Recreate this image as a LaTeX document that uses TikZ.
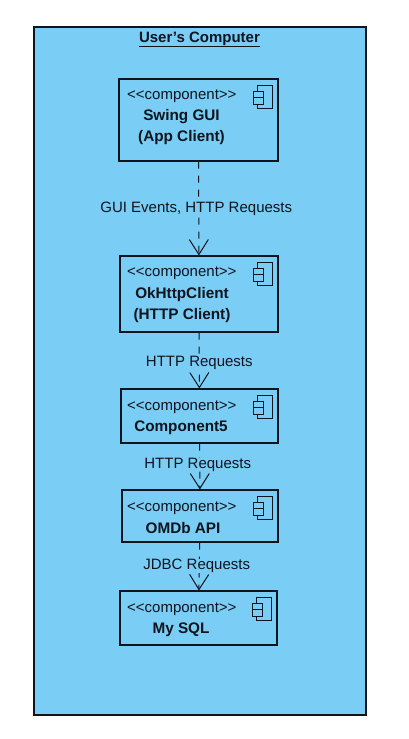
\documentclass[tikz,border=0pt]{standalone}
\usepackage{fontspec}
\setmainfont{Liberation Sans}[Ligatures=NoCommon]
\usetikzlibrary{arrows.meta, positioning}
\definecolor{compblue}{RGB}{122,205,245}
\definecolor{inkdark}{RGB}{15,20,30}
\newcommand{\stereotext}{{<}{<}component{>}{>}}

\tikzset{
  every node/.style={text=inkdark},
  machine/.style={draw=inkdark, line width=1.1pt, fill=compblue, minimum width=332pt, minimum height=688pt, inner sep=0pt},
  comp/.style={draw=inkdark, line width=1.1pt, fill=compblue, inner sep=0pt},
  stereo/.style={font=\fontsize{15}{17}\selectfont, inner sep=0pt},
  compname/.style={font=\fontsize{15.3}{21}\bfseries\selectfont, align=center, inner sep=0pt},
  flow/.style={draw=inkdark, line width=1pt, dash pattern=on 7pt off 7pt, -{Straight Barb[length=15pt, width=19pt, line width=1pt]}},
  flowlabel/.style={font=\fontsize{15}{17}\selectfont, fill=compblue, inner sep=0pt},
  pics/compicon/.style={code={
    \draw[inkdark, line width=1pt] (-21pt,-7pt) rectangle (-6pt,-30pt);
    \draw[inkdark, line width=1pt, fill=compblue] (-25pt,-13pt) rectangle (-15pt,-19.5pt);
    \draw[inkdark, line width=1pt, fill=compblue] (-25pt,-19.5pt) rectangle (-15pt,-26pt);
  }}
}

\begin{document}
\begin{tikzpicture}[x=1pt,y=-1pt]
  \useasboundingbox (0,0) rectangle (408,739);

  \node[machine](computer) at (200,371){};
  \node[font=\fontsize{15}{17}\bfseries\selectfont, inner sep=0pt](title) at (199.5,39){User's Computer};
  \draw[inkdark, line width=1pt] ([yshift=-1pt]title.south west) -- ([yshift=-1pt]title.south east);

  % components
  \node[comp, minimum width=159pt, minimum height=82pt](swing) at (198.5,120){};
  \node[comp, minimum width=158pt, minimum height=76pt](okhttp) at (199,294){};
  \node[comp, minimum width=157pt, minimum height=54pt](comp5) at (199.5,416){};
  \node[comp, minimum width=156pt, minimum height=52pt](omdb) at (200,516){};
  \node[comp, minimum width=157pt, minimum height=54pt](mysql) at (198.5,618){};

  \pic at (swing.north east) {compicon};
  \pic at (okhttp.north east) {compicon};
  \pic at (comp5.north east) {compicon};
  \pic at (omdb.north east) {compicon};
  \pic at (mysql.north east) {compicon};

  \node[stereo, anchor=west](swing_st) at (127,96){\stereotext};
  \node[stereo, anchor=west](okhttp_st) at (127,273.5){\stereotext};
  \node[stereo, anchor=west](comp5_st) at (127,407){\stereotext};
  \node[stereo, anchor=west](omdb_st) at (127,508){\stereotext};
  \node[stereo, anchor=west](mysql_st) at (127,609){\stereotext};

  \node[compname](swing_nm) at (181.5,127){Swing GUI\\(App Client)};
  \node[compname](okhttp_nm) at (182,305){OkHttpClient\\(HTTP Client)};
  \node[compname](comp5_nm) at (181,427.5){Component5};
  \node[compname](omdb_nm) at (183,528.5){OMDb API};
  \node[compname](mysql_nm) at (181,629.5){My SQL};

  % dependencies
  \draw[flow] (swing) -- (okhttp) node[flowlabel, pos=0.5, xshift=-2.5pt]{GUI Events, HTTP Requests};
  \draw[flow] (okhttp) -- (comp5) node[flowlabel, pos=0.55]{HTTP Requests};
  \draw[flow] (comp5) -- (omdb) node[flowlabel, pos=0.46, xshift=-2pt]{HTTP Requests};
  \draw[flow] (omdb) -- (mysql) node[flowlabel, pos=0.49, xshift=-2.5pt]{JDBC Requests};
\end{tikzpicture}
\end{document}
